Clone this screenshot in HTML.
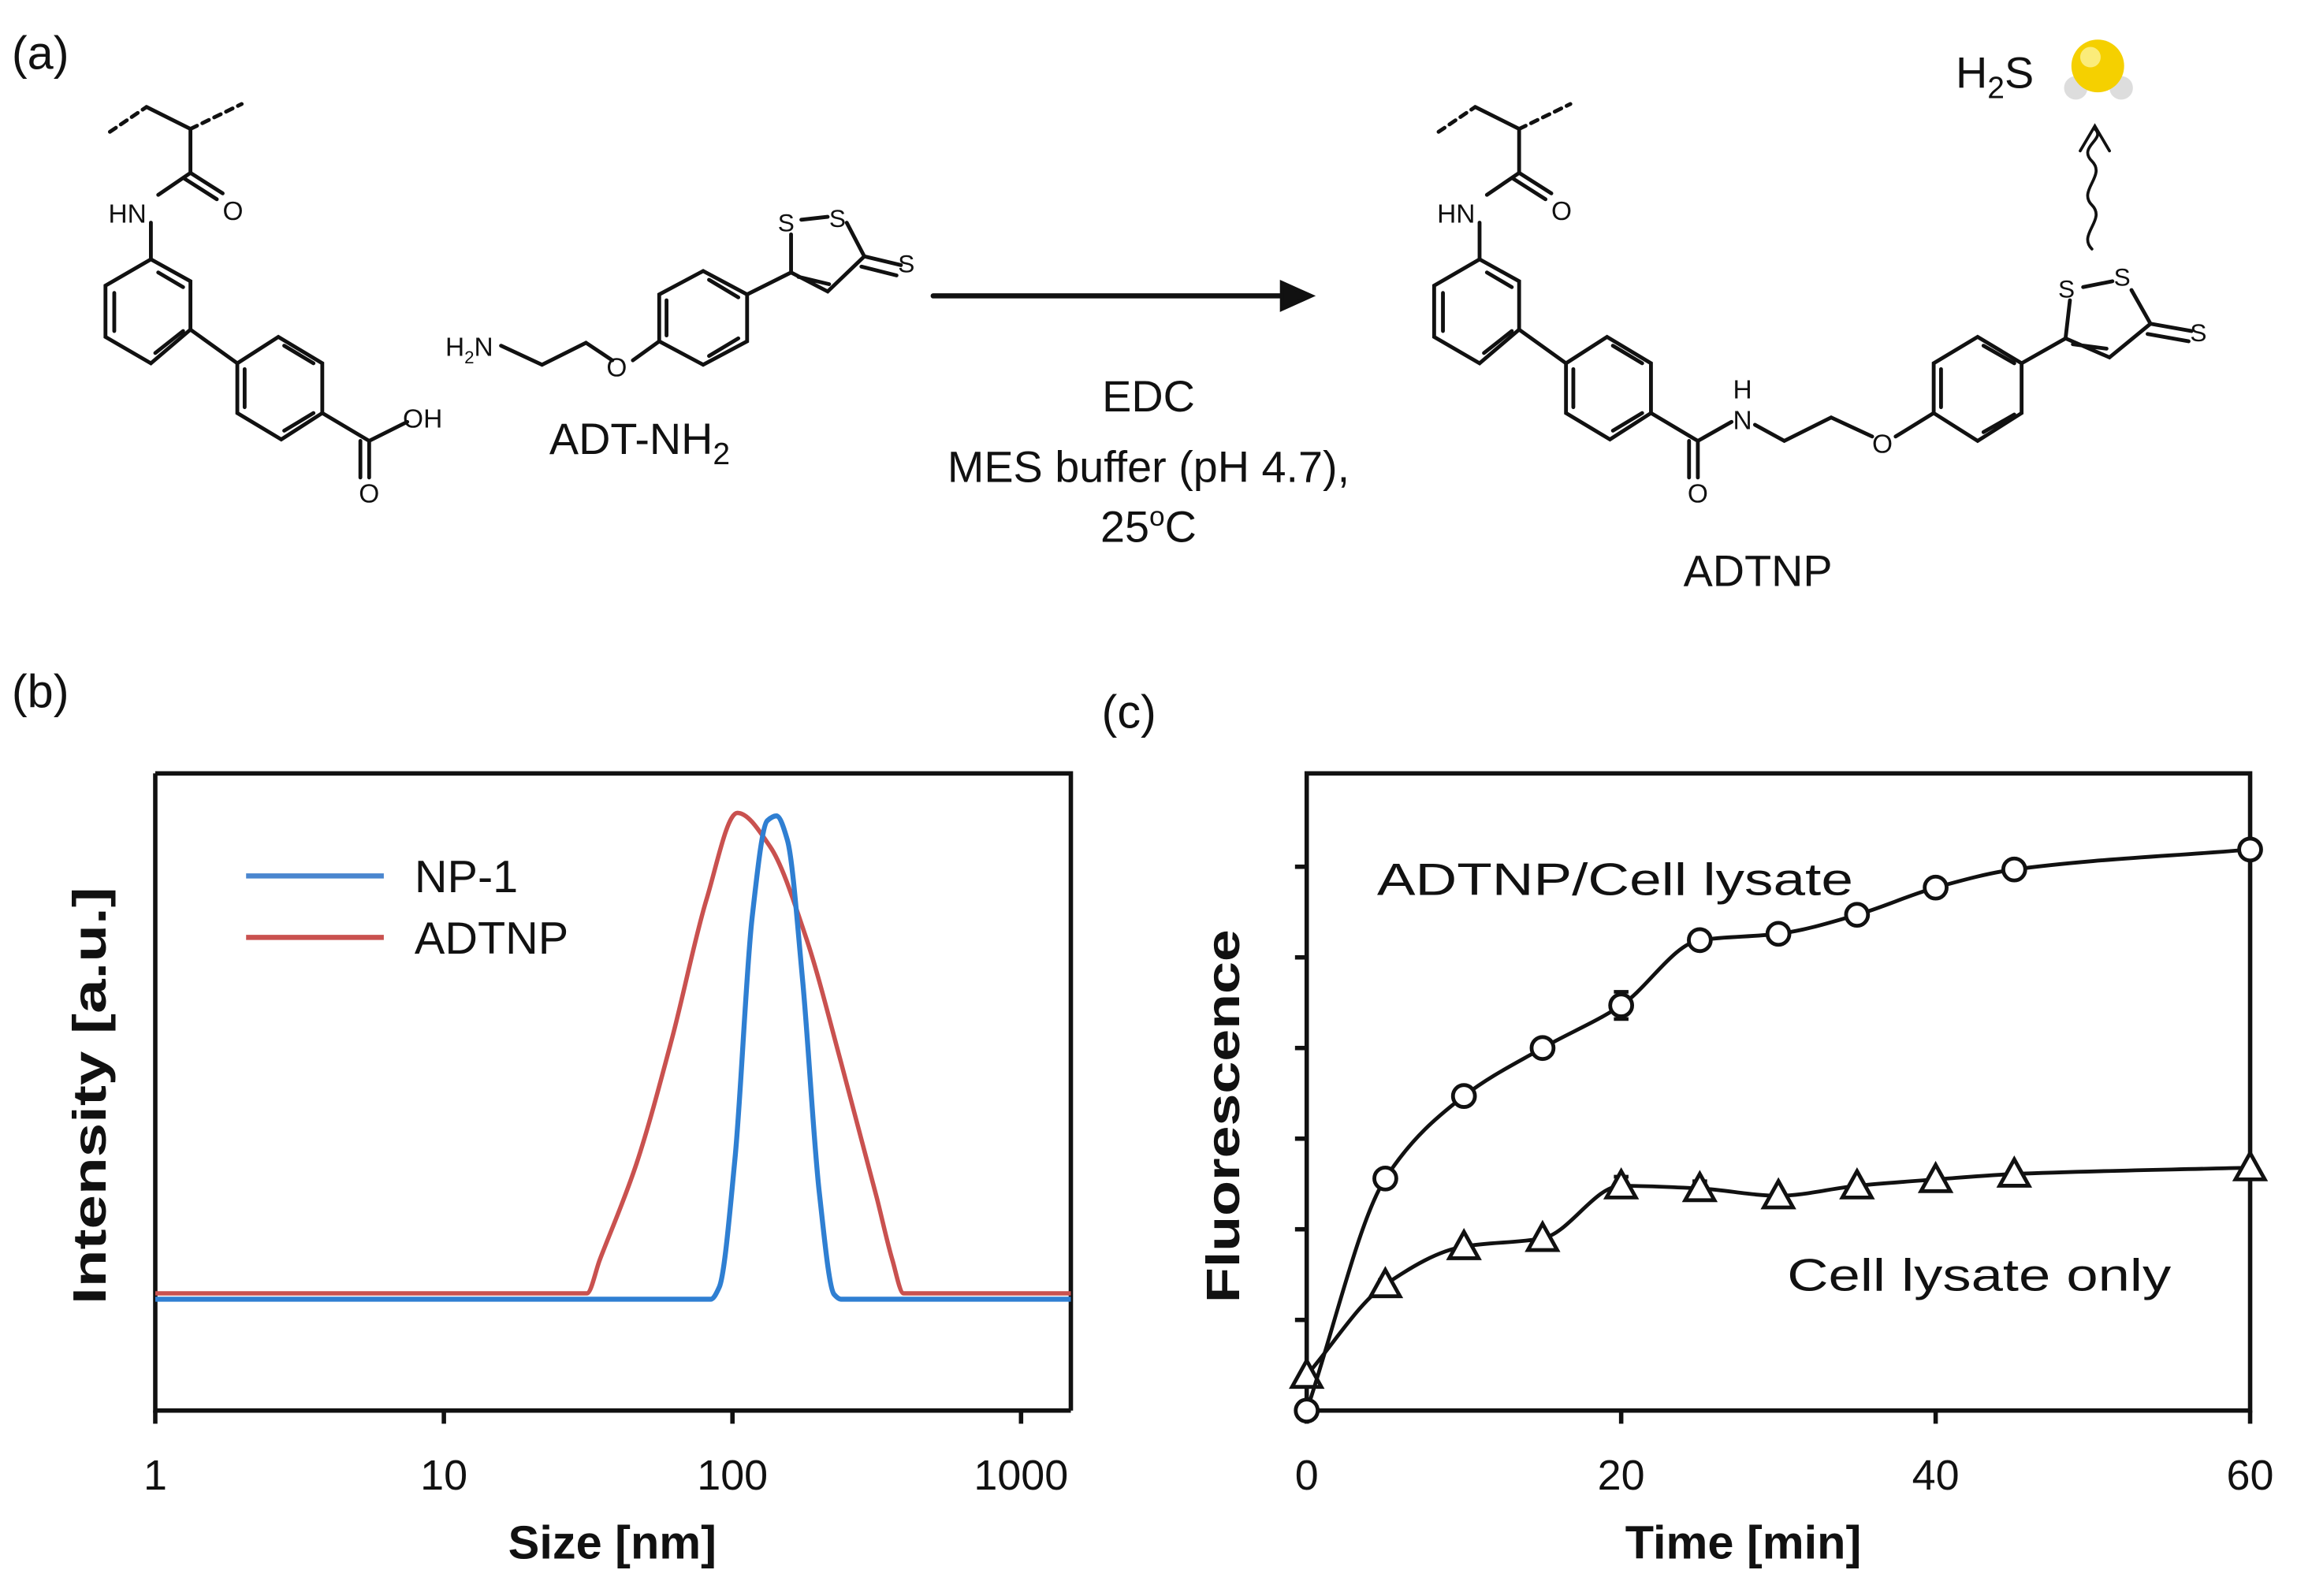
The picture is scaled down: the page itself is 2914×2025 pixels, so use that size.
<!DOCTYPE html>
<html><head><meta charset="utf-8"><style>
html,body{margin:0;padding:0;background:#fff}
svg{display:block}
text{font-family:"Liberation Sans",Arial,sans-serif;fill:#111}
</style></head><body>
<svg id="fig" width="2914" height="2025" viewBox="0 0 1568 1089.6" xmlns="http://www.w3.org/2000/svg">
<g id="panelA" stroke="#111" stroke-width="2.6" fill="none" stroke-linecap="round">
  <text x="8" y="47" font-size="32" stroke="none">(a)</text>
  <!-- left molecule -->
  <path d="M75,90 L100,73" stroke-dasharray="5,4"/><path d="M100,73 L130,88 M130,88 L130,118"/><path d="M130,88 L165,71" stroke-dasharray="5,4"/>
  <path d="M130,118 L152,132 M126,122 L148,136 M130,118 L108,133"/>
  <path d="M103,152 L103,177"/>
  <path d="M103,177 L130,192 L130,225 L103,248 L72,230 L72,195 Z M108,186 L125,196 M78,200 L78,226 M106,241 L125,226"/>
  <path d="M130,225 L162,248"/>
  <path d="M162,248 L190,230 L220,248 L220,282 L192,300 L162,282 Z M167,252 L167,278 M194,236 L214,248 M194,294 L214,282"/>
  <path d="M220,282 L252,301 L278,288 M252,301 L252,326 M246,301 L246,326"/>
  <g stroke="none" font-size="18"><text x="74" y="152">HN</text><text x="152" y="150">O</text><text x="275" y="292">OH</text><text x="245" y="343">O</text></g>
  <!-- ADT-NH2 -->
  <path d="M342,236 L370,249 L400,234 L418,246 M432,246 L450,233"/>
  <path d="M450,233 L450,201 L480,185 L510,201 L510,233 L480,249 Z M455,205 L455,229 M484,191 L504,203 M484,243 L504,231"/>
  <path d="M510,201 L540,186 L540,160 M540,186 L565,199 L590,175 L578,152 M545,189 L566,194 M590,175 L615,181 M588,182 L612,188 M547,150 L565,148"/>
  <g stroke="none"><text x="304" y="243" font-size="18">H<tspan font-size="12" dy="5">2</tspan><tspan dy="-5">N</tspan></text><text x="414" y="257" font-size="18">O</text>
  <text x="531" y="158" font-size="17">S</text><text x="566" y="155" font-size="17">S</text><text x="613" y="186" font-size="17">S</text>
  <text x="375" y="310" font-size="30">ADT-NH<tspan font-size="21" dy="7">2</tspan></text></g>
  <!-- arrow -->
  <path d="M637,202 L878,202" stroke-width="3.5"/><path d="M875,193 L895,202 L875,211 Z" fill="#111"/>
  <g stroke="none" font-size="30" text-anchor="middle"><text x="784" y="281">EDC</text><text x="784" y="329">MES buffer (pH 4.7),</text><text x="784" y="370">25<tspan font-size="19" dy="-11">o</tspan><tspan dy="11">C</tspan></text></g>
  <!-- right molecule -->
  <g transform="translate(907,0)">
  <path d="M75,90 L100,73" stroke-dasharray="5,4"/><path d="M100,73 L130,88 M130,88 L130,118"/><path d="M130,88 L165,71" stroke-dasharray="5,4"/>
  <path d="M130,118 L152,132 M126,122 L148,136 M130,118 L108,133"/>
  <path d="M103,152 L103,177"/>
  <path d="M103,177 L130,192 L130,225 L103,248 L72,230 L72,195 Z M108,186 L125,196 M78,200 L78,226 M106,241 L125,226"/>
  <path d="M130,225 L162,248"/>
  <path d="M162,248 L190,230 L220,248 L220,282 L192,300 L162,282 Z M167,252 L167,278 M194,236 L214,248 M194,294 L214,282"/>
  <g stroke="none" font-size="18"><text x="74" y="152">HN</text><text x="152" y="150">O</text></g>
  </g>
  <path d="M1127,282 L1159,301 L1182,288 M1159,301 L1159,326 M1153,301 L1153,326 M1198,290 L1218,301 L1250,285 L1278,298 M1294,298 L1320,282"/>
  <path d="M1320,282 L1320,248 L1350,230 L1380,248 L1380,282 L1350,301 Z M1325,252 L1325,278 M1354,236 L1375,248 M1354,295 L1375,283"/>
  <path d="M1380,248 L1410,231 L1413,205 M1410,231 L1440,244 L1468,221 L1455,198 M1415,235 L1438,238 M1468,221 L1496,226 M1466,228 L1494,233 M1422,196 L1442,192"/>
  <g stroke="none"><text x="1152" y="343" font-size="18">O</text><text x="1183" y="293" font-size="18">N</text><text x="1183" y="272" font-size="18">H</text><text x="1278" y="309" font-size="18">O</text>
  <text x="1405" y="203" font-size="17">S</text><text x="1443" y="195" font-size="17">S</text><text x="1495" y="233" font-size="17">S</text>
  <text x="1200" y="400" font-size="30" text-anchor="middle">ADTNP</text>
  <text x="1335" y="60" font-size="30">H<tspan font-size="21" dy="7">2</tspan><tspan dy="-7">S</tspan></text></g>
  <path d="M1428,170 C1418,160 1438,150 1428,140 C1418,130 1438,120 1428,110 C1418,100 1438,95 1430,88 M1420,103 L1430,86 L1440,103" stroke-width="2"/>
  <g stroke="none"><circle cx="1417" cy="60" r="8" fill="#ddd"/><circle cx="1448" cy="60" r="8" fill="#ddd"/><circle cx="1432" cy="45" r="18" fill="#f5d000"/><circle cx="1427" cy="39" r="7" fill="#fbec7a"/></g>
</g>

<g id="panelB"></g>
<g id="panelC"></g>
</svg>
<script>
// ---------- Panel (b) data ----------
const bTicks = [1, 10, 100, 1000];
const npSizes = [1, 84, 90, 102, 117, 132, 142, 155, 175, 200, 225, 238, 1500];
const npInt =   [0, 0, 0.025, 0.29, 0.79, 0.99, 1.0, 0.95, 0.66, 0.22, 0.01, 0, 0];
const adSizes = [1, 31.3, 34.7, 46.5, 61.7, 81.3, 104, 135, 180, 238, 316, 358, 392, 1500];
const adInt =   [0, 0, 0.07, 0.27, 0.53, 0.82, 1.0, 0.93, 0.74, 0.48, 0.2, 0.07, 0, 0];
// ---------- Panel (c) data ----------
const times = [0, 5, 10, 15, 20, 25, 30, 35, 40, 45, 60];
const adtnpFl = [0.0, 2.56, 3.47, 4.0, 4.47, 5.19, 5.26, 5.47, 5.77, 5.97, 6.19];
const adtnpErr = [0, 0, 0, 0, 0.15, 0, 0, 0, 0, 0, 0];
const lysateFl = [0.39, 1.39, 1.81, 1.9, 2.48, 2.45, 2.37, 2.48, 2.55, 2.61, 2.68];
const lysateErr = [0, 0.05, 0, 0, 0.1, 0.08, 0, 0, 0, 0, 0];
const cXTicks = [0, 20, 40, 60];
const cYTicks = [1, 2, 3, 4, 5, 6];

const NS = "http://www.w3.org/2000/svg";
function mk(parent, tag, attrs, txt) {
  const e = document.createElementNS(NS, tag);
  for (const k in attrs) e.setAttribute(k, attrs[k]);
  if (txt !== undefined) e.textContent = txt;
  parent.appendChild(e);
  return e;
}
// monotone cubic (Fritsch-Carlson) path, no overshoot
function smooth(pts) {
  const n = pts.length;
  const dx = [], s = [], m = [];
  for (let i = 0; i < n - 1; i++) { dx[i] = pts[i + 1][0] - pts[i][0]; s[i] = dx[i] ? (pts[i + 1][1] - pts[i][1]) / dx[i] : 0; }
  m[0] = s[0]; m[n - 1] = s[n - 2];
  for (let i = 1; i < n - 1; i++) {
    if (s[i - 1] * s[i] <= 0) m[i] = 0;
    else { const w1 = 2 * dx[i] + dx[i - 1], w2 = dx[i] + 2 * dx[i - 1]; m[i] = (w1 + w2) / (w1 / s[i - 1] + w2 / s[i]); }
  }
  let d = "M" + pts[0][0] + "," + pts[0][1];
  for (let i = 0; i < n - 1; i++) {
    const h = dx[i] / 3;
    d += " C" + (pts[i][0] + h) + "," + (pts[i][1] + m[i] * h) + " " + (pts[i + 1][0] - h) + "," + (pts[i + 1][1] - m[i + 1] * h) + " " + pts[i + 1][0] + "," + pts[i + 1][1];
  }
  return d;
}

// ---------- Panel B ----------
const B = document.getElementById("panelB");
const bL = 106, bR = 731, bT = 528, bB = 963, bDec = 197;
const bx = v => bL + Math.log10(v) * bDec;
const byNP = v => 887 - v * 330;
const byAD = v => 883 - v * 328;
const pb = mk(B, "text", {x: 8, y: 483, "font-size": 32}, "(b)");


const bBox = mk(B, "path", {d: `M${bL},${bT} L${bR},${bT} L${bR},${bB} M${bL},${bT} L${bL},${bB} L${bR},${bB}`, stroke: "#111", "stroke-width": 3, fill: "none"});


bTicks.forEach(t => {
  const l = mk(B, "line", {x1: bx(t), x2: bx(t), y1: bB, y2: bB + 9, stroke: "#111", "stroke-width": 3});
  
  
  const tx = mk(B, "text", {x: bx(t), y: 1017, "font-size": 29, "text-anchor": "middle"}, String(t));
  
  
});
const adPath = mk(B, "path", {d: smooth(adSizes.map((s, i) => [Math.min(bx(s), bR), byAD(adInt[i])])), stroke: "#c9514f", "stroke-width": 3, fill: "none"});


const npPath = mk(B, "path", {d: smooth(npSizes.map((s, i) => [Math.min(bx(s), bR), byNP(npInt[i])])), stroke: "#2f7fd2", "stroke-width": 3.4, fill: "none"});


const lg1 = mk(B, "line", {x1: 168, x2: 262, y1: 598, y2: 598, stroke: "#4a86cf", "stroke-width": 3.5});


const lt1 = mk(B, "text", {x: 283, y: 609, "font-size": 31}, "NP-1");


const lg2 = mk(B, "line", {x1: 168, x2: 262, y1: 640, y2: 640, stroke: "#c9514f", "stroke-width": 3.5});


const lt2 = mk(B, "text", {x: 283, y: 651, "font-size": 31}, "ADTNP");


const bxt = mk(B, "text", {x: 418, y: 1064, "font-size": 32, "font-weight": "bold", "text-anchor": "middle"}, "Size [nm]");


const byt = mk(B, "text", {x: 0, y: 0, "font-size": 32, "font-weight": "bold", "text-anchor": "middle", transform: "translate(72,748) rotate(-90)", textLength: 285, lengthAdjust: "spacingAndGlyphs"}, "Intensity [a.u.]");



// ---------- Panel C ----------
const C = document.getElementById("panelC");
const cL = 892, cR = 1536, cT = 528, cB = 963, cYmax = 7.03;
const cx = v => cL + v / 60 * (cR - cL);
const cy = v => cB - v / cYmax * (cB - cT);
const pc = mk(C, "text", {x: 752, y: 497, "font-size": 32}, "(c)");


const cBox = mk(C, "rect", {x: cL, y: cT, width: cR - cL, height: cB - cT, stroke: "#111", "stroke-width": 3, fill: "none"});


cXTicks.forEach(t => {
  const l = mk(C, "line", {x1: cx(t), x2: cx(t), y1: cB, y2: cB + 9, stroke: "#111", "stroke-width": 3});
  
  
  const tx = mk(C, "text", {x: cx(t), y: 1017, "font-size": 29, "text-anchor": "middle"}, String(t));
  
  
});
cYTicks.forEach(t => {
  const l = mk(C, "line", {x1: cL - 8, x2: cL, y1: cy(t), y2: cy(t), stroke: "#111", "stroke-width": 3});
  
  
});
function series(vals, errs, kind, name) {
  const g = mk(C, "g", {});
  
  
  const ln = mk(g, "path", {d: smooth(times.map((t, i) => [cx(t), cy(vals[i])])), stroke: "#111", "stroke-width": 2.6, fill: "none"});
  
  
  times.forEach((t, i) => {
    const x = cx(t), y = cy(vals[i]);
    if (errs[i] > 0) {
      const e = mk(g, "path", {d: `M${x},${cy(vals[i] - errs[i])} L${x},${cy(vals[i] + errs[i])} M${x - 5},${cy(vals[i] - errs[i])} h10 M${x - 5},${cy(vals[i] + errs[i])} h10`, stroke: "#111", "stroke-width": 2.5, fill: "none"});
      
      
    }
    let m;
    if (kind === "circle") m = mk(g, "circle", {cx: x, cy: y, r: 7.5, fill: "#fff", stroke: "#111", "stroke-width": 2.6});
    else m = mk(g, "path", {d: `M${x},${y - 10} L${x + 10},${y + 8} L${x - 10},${y + 8} Z`, fill: "#fff", stroke: "#111", "stroke-width": 2.6});
    
    
  });
}
series(lysateFl, lysateErr, "triangle", "cell-lysate-series");
series(adtnpFl, adtnpErr, "circle", "adtnp-lysate-series");
const s1 = mk(C, "text", {x: 940, y: 611, "font-size": 31, textLength: 325, lengthAdjust: "spacingAndGlyphs"}, "ADTNP/Cell lysate");


const s2 = mk(C, "text", {x: 1220, y: 881, "font-size": 31, textLength: 262, lengthAdjust: "spacingAndGlyphs"}, "Cell lysate only");


const cxt = mk(C, "text", {x: 1190, y: 1064, "font-size": 32, "font-weight": "bold", "text-anchor": "middle"}, "Time [min]");


const cyt = mk(C, "text", {x: 0, y: 0, "font-size": 32, "font-weight": "bold", "text-anchor": "middle", transform: "translate(846,762) rotate(-90)", textLength: 255, lengthAdjust: "spacingAndGlyphs"}, "Fluorescence");


</script>
</body></html>
